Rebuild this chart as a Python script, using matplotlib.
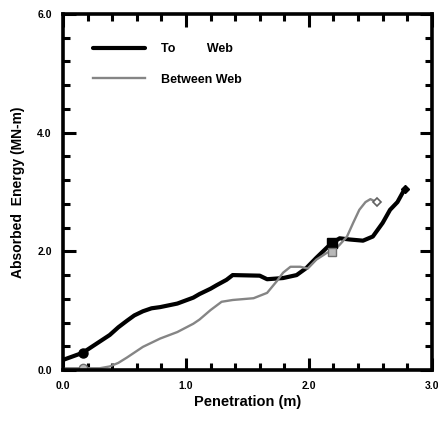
import matplotlib
matplotlib.use("Agg")
import matplotlib.pyplot as plt
from matplotlib.ticker import MultipleLocator, FormatStrFormatter

plt.rcParams['font.family'] = ['Liberation Sans', 'DejaVu Sans']

# To Web series
to_x = [0.0, 0.16, 0.27, 0.38, 0.45, 0.52, 0.58, 0.65, 0.72, 0.79, 0.93, 1.06, 1.11, 1.20,
        1.25, 1.33, 1.38, 1.60, 1.66, 1.79, 1.90, 1.98, 2.06, 2.15, 2.19, 2.25, 2.33, 2.44,
        2.52, 2.60, 2.66, 2.72, 2.76, 2.78]
to_y = [0.17, 0.29, 0.44, 0.59, 0.72, 0.83, 0.92, 0.99, 1.04, 1.06, 1.12, 1.22, 1.28, 1.37,
        1.43, 1.52, 1.60, 1.59, 1.53, 1.55, 1.60, 1.72, 1.89, 2.07, 2.14, 2.22, 2.20, 2.18,
        2.25, 2.48, 2.70, 2.83, 2.98, 3.05]
# Between Web series
bw_x = [0.0, 0.16, 0.30, 0.38, 0.45, 0.52, 0.65, 0.79, 0.93, 1.06, 1.11, 1.20, 1.29, 1.38,
        1.55, 1.66, 1.74, 1.79, 1.85, 1.93, 1.99, 2.06, 2.15, 2.19, 2.25, 2.31, 2.36, 2.41,
        2.46, 2.50, 2.55]
bw_y = [0.03, 0.03, 0.03, 0.06, 0.12, 0.21, 0.39, 0.53, 0.64, 0.78, 0.85, 1.01, 1.15, 1.18,
        1.21, 1.30, 1.50, 1.64, 1.74, 1.74, 1.71, 1.86, 1.98, 1.99, 2.11, 2.25, 2.48, 2.70,
        2.83, 2.88, 2.83]

# marker points (index into series)
to_marks = {'o': 1, 's': 24, 'D': 33}
bw_marks = {'o': 1, 's': 23, 'D': 30}

fig = plt.figure(figsize=(4.38, 4.22), dpi=100)
ax = fig.add_axes([0.1438, 0.1232, 0.8422, 0.8436])

ax.plot(to_x, to_y, color='black', lw=3.0, solid_capstyle='round', solid_joinstyle='round',
        label='To         Web')
ax.plot(bw_x, bw_y, color='#858585', lw=1.7, solid_joinstyle='round', label='Between Web')

ax.plot(to_x[to_marks['o']], to_y[to_marks['o']], 'o', color='black', ms=6.5)
ax.plot(to_x[to_marks['s']], to_y[to_marks['s']], 's', color='black', ms=6.5)
ax.plot(to_x[to_marks['D']], to_y[to_marks['D']], 'D', color='black', ms=4.5)
ax.plot(bw_x[bw_marks['o']], bw_y[bw_marks['o']], 'o', mfc='#b8b8b8', mec='#707070', ms=6)
ax.plot(bw_x[bw_marks['s']], bw_y[bw_marks['s']], 's', mfc='#b8b8b8', mec='#707070', ms=5.5)
ax.plot(bw_x[bw_marks['D']], bw_y[bw_marks['D']], 'D', mfc='white', mec='#606060', ms=4.5, mew=1.2)

ax.set_xlim(0, 3.0)
ax.set_ylim(0, 6.0)
ax.xaxis.set_major_locator(MultipleLocator(1.0))
ax.xaxis.set_minor_locator(MultipleLocator(0.2))
ax.yaxis.set_major_locator(MultipleLocator(2.0))
ax.yaxis.set_minor_locator(MultipleLocator(0.4))
ax.xaxis.set_major_formatter(FormatStrFormatter('%.1f'))
ax.yaxis.set_major_formatter(FormatStrFormatter('%.1f'))

ax.tick_params(which='both', direction='in', top=True, right=True, width=2.2)
ax.tick_params(which='major', length=9, labelsize=7.5, pad=8)
ax.tick_params(which='minor', length=5)
for lab in ax.get_xticklabels() + ax.get_yticklabels():
    lab.set_fontweight('bold')
for s in ax.spines.values():
    s.set_linewidth(2.6)

ax.set_xlabel('Penetration (m)', fontsize=10.5, fontweight='bold', labelpad=3)
ax.set_ylabel('Absorbed  Energy (MN-m)', fontsize=10, fontweight='bold', labelpad=9)

leg = ax.legend(loc='upper left', bbox_to_anchor=(0.05, 0.95), frameon=False,
                prop={'weight': 'bold', 'size': 9}, handlelength=4.2,
                handletextpad=1.3, labelspacing=1.5)

fig.savefig('out.png', dpi=100)
